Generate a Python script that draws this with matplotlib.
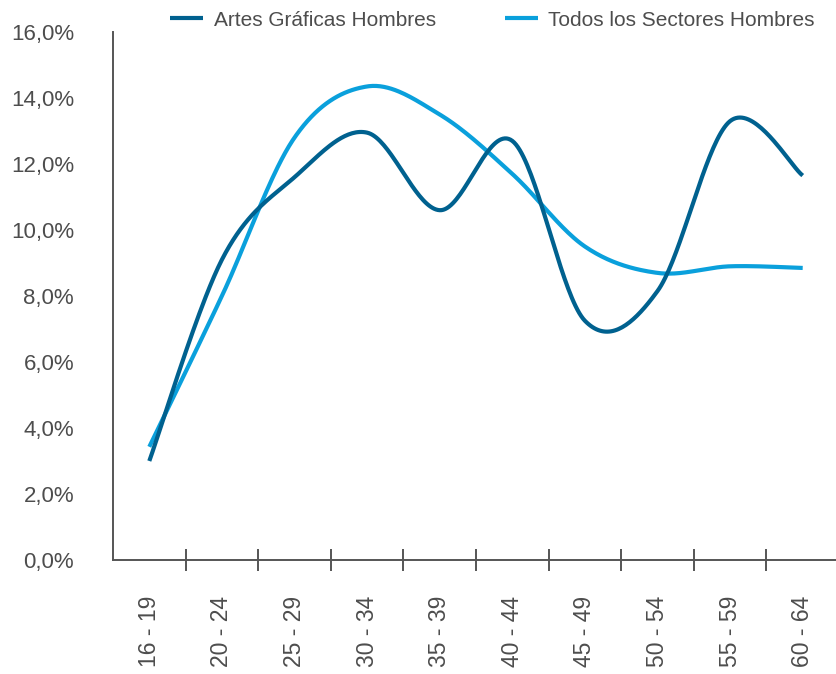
import numpy as np
import matplotlib
matplotlib.use("Agg")
import matplotlib.pyplot as plt
from matplotlib.ticker import FixedLocator

plt.rcParams['font.family'] = ['Liberation Sans', 'DejaVu Sans']

categories = ["16 - 19", "20 - 24", "25 - 29", "30 - 34", "35 - 39",
              "40 - 44", "45 - 49", "50 - 54", "55 - 59", "60 - 64"]
artes_graficas = [3.0, 9.1, 11.6, 12.95, 10.6, 12.7, 7.25, 8.15, 13.3, 11.65]
todos_sectores = [3.43, 8.0, 12.8, 14.35, 13.5, 11.7, 9.5, 8.7, 8.9, 8.85]
y_ticks = [0, 2, 4, 6, 8, 10, 12, 14, 16]
y_labels = ["0,0%", "2,0%", "4,0%", "6,0%", "8,0%", "10,0%", "12,0%", "14,0%", "16,0%"]

dark = "#00618f"
light = "#0aa0dc"
axis_col = "#555555"
text_col = "#4d4d4d"


def catmull_rom(xs, ys, n=40):
    px = np.asarray(xs, float)
    py = np.asarray(ys, float)
    px = np.concatenate([[px[0]], px, [px[-1]]])
    py = np.concatenate([[py[0]], py, [py[-1]]])
    outx, outy = [], []
    t = np.linspace(0, 1, n)
    for i in range(1, len(px) - 2):
        p0x, p1x, p2x, p3x = px[i - 1:i + 3]
        p0y, p1y, p2y, p3y = py[i - 1:i + 3]
        m1x, m2x = (p2x - p0x) / 2, (p3x - p1x) / 2
        m1y, m2y = (p2y - p0y) / 2, (p3y - p1y) / 2
        h00 = 2 * t**3 - 3 * t**2 + 1
        h10 = t**3 - 2 * t**2 + t
        h01 = -2 * t**3 + 3 * t**2
        h11 = t**3 - t**2
        outx.append(h00 * p1x + h10 * m1x + h01 * p2x + h11 * m2x)
        outy.append(h00 * p1y + h10 * m1y + h01 * p2y + h11 * m2y)
    return np.concatenate(outx), np.concatenate(outy)


fig = plt.figure(figsize=(8.37, 6.74), dpi=100)
ax = fig.add_axes([113 / 837, 1 - 560 / 674, 726 / 837, 528 / 674])

x = np.arange(len(categories))
sx, sy = catmull_rom(x, todos_sectores)
l2, = ax.plot(sx, sy, color=light, lw=3, solid_capstyle='butt',
              label="Todos los Sectores Hombres")
sx, sy = catmull_rom(x, artes_graficas)
l1, = ax.plot(sx, sy, color=dark, lw=3, solid_capstyle='butt',
              label="Artes Gráficas Hombres")

ax.set_xlim(-0.5, len(categories) - 0.5)
ax.set_ylim(0, 16)

for s in ["top", "right"]:
    ax.spines[s].set_visible(False)
for s in ["left", "bottom"]:
    ax.spines[s].set_color(axis_col)
    ax.spines[s].set_linewidth(1.4)

ax.set_xticks(x)
ax.set_xticklabels(categories, rotation=90, fontsize=16.5, color=text_col, va='top')
ax.xaxis.set_minor_locator(FixedLocator(np.arange(0.5, len(categories) - 1, 1.0)))
ax.tick_params(axis='x', which='major', length=0, pad=26)
ax.tick_params(axis='x', which='minor', direction='inout', length=16, width=1.4, color=axis_col)

ax.set_yticks(y_ticks)
ax.set_yticklabels(y_labels, fontsize=16, color=text_col)
ax.yaxis.set_minor_locator(FixedLocator(y_ticks[1:-1]))
ax.tick_params(axis='y', which='major', length=0, pad=28)
ax.tick_params(axis='y', which='minor', direction='inout', length=16, width=1.4, color=axis_col)

leg = fig.legend(handles=[l1, l2], loc='center left', bbox_to_anchor=(170 / 837, 1 - 20 / 674),
                 ncol=2, frameon=False, fontsize=15, handlelength=1.6, handletextpad=0.5,
                 columnspacing=3.3, borderpad=0, borderaxespad=0)
for t in leg.get_texts():
    t.set_color(text_col)

fig.savefig("out.png", dpi=100)
